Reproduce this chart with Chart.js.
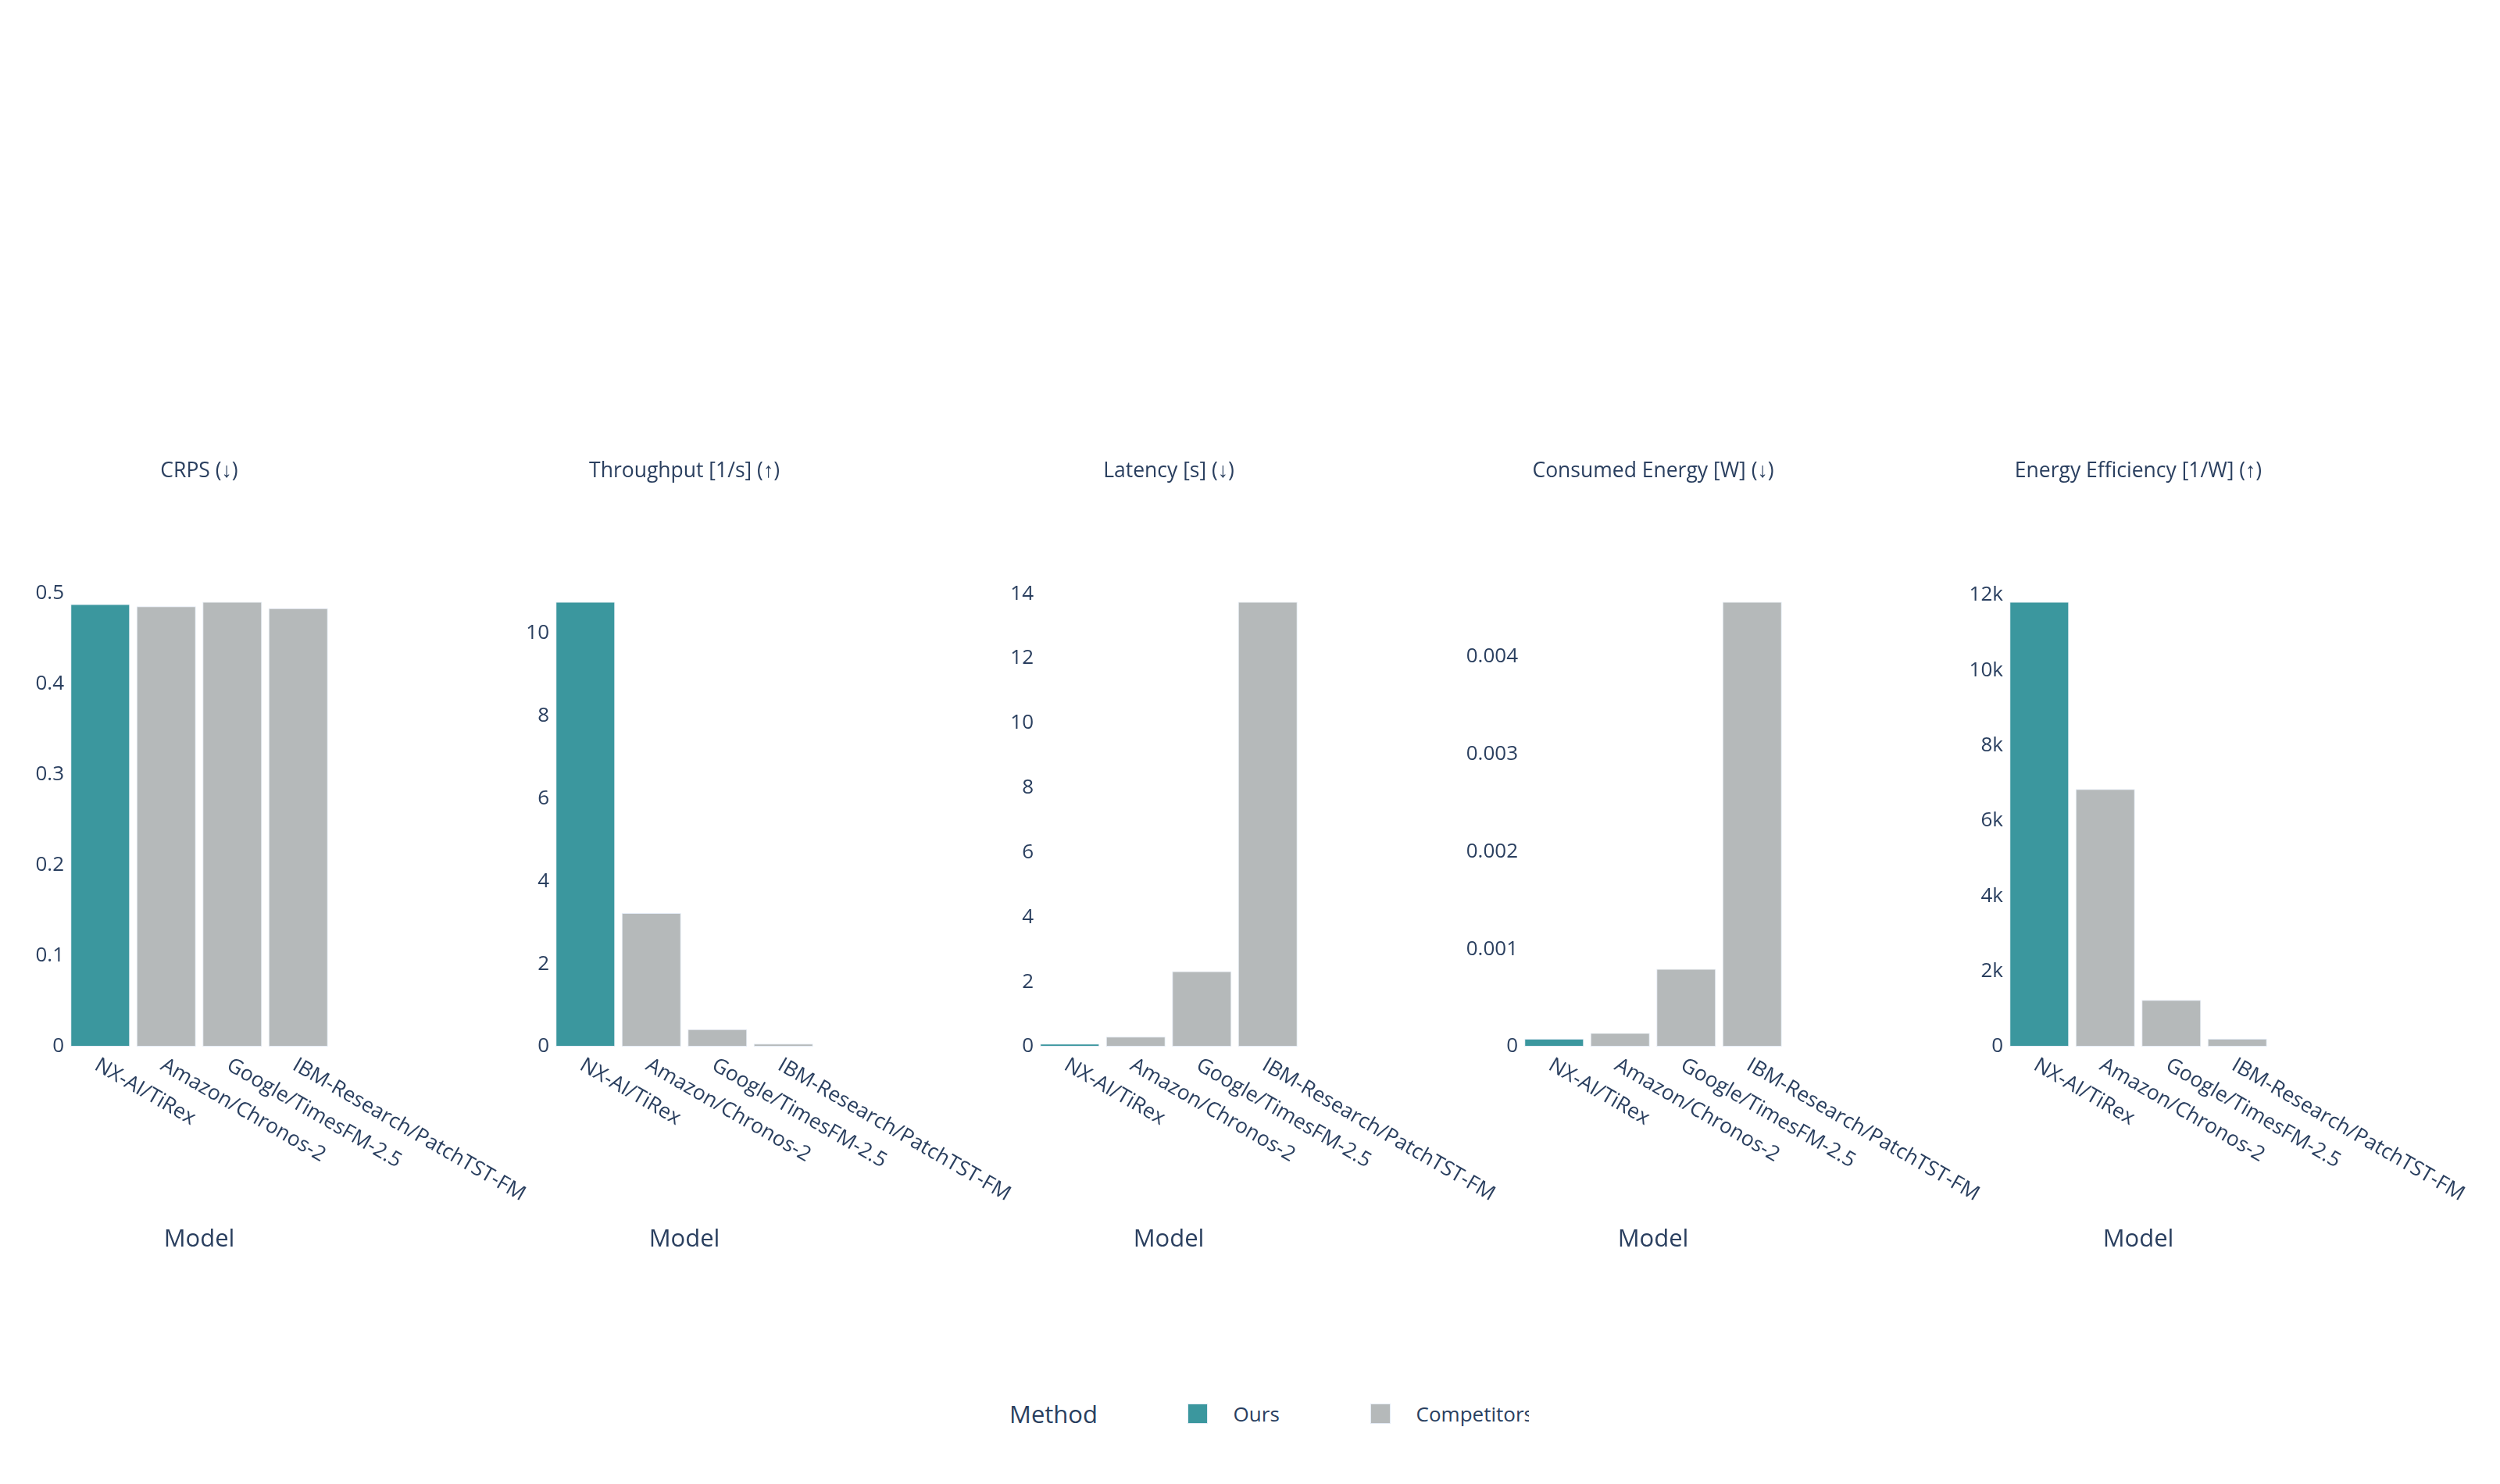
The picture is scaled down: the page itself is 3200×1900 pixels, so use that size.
<!DOCTYPE html>
<html><head><meta charset="utf-8">
<script src="https://cdn.jsdelivr.net/npm/chart.js@4.4.1/dist/chart.umd.min.js"></script>
<style>
html,body{margin:0;padding:0;background:#fff;}
body{width:3200px;height:1900px;position:relative;overflow:hidden;font-family:'Open Sans',sans-serif;color:#2a3f5f;}
canvas{position:absolute;top:0;}
#legend{position:absolute;left:1292px;top:1780px;width:665px;height:60px;overflow:hidden;white-space:nowrap;}
#legend .lt{position:absolute;left:0;top:30px;transform:translateY(-50%);font-size:31px;line-height:1;}
#legend .sw{position:absolute;top:17px;width:24px;height:24px;border:1px solid #E5ECF6;}
#legend .it{position:absolute;top:30px;transform:translateY(-50%);font-size:26px;line-height:1;}
</style></head><body>
<div id="legend"></div>
<script>
// ---- data ----
const models = ['NX-AI/TiRex', 'Amazon/Chronos-2', 'Google/TimesFM-2.5', 'IBM-Research/PatchTST-FM'];
const methods = ['Ours', 'Competitors'];
const methodOfModel = ['Ours', 'Competitors', 'Competitors', 'Competitors'];
const metricTitles = ['CRPS (↓)', 'Throughput [1/s] (↑)', 'Latency [s] (↓)', 'Consumed Energy [W] (↓)', 'Energy Efficiency [1/W] (↑)'];
const crps = [0.488, 0.4855, 0.4905, 0.4833];
const throughput = [10.76, 3.23, 0.42, 0.07];
const latency = [0.093, 0.31, 2.33, 13.75];
const consumedEnergy = [0.00008, 0.00014, 0.000797, 0.004565];
const energyEfficiency = [11820, 6845, 1240, 208];
const crpsTicks = [0, 0.1, 0.2, 0.3, 0.4, 0.5];
const throughputTicks = [0, 2, 4, 6, 8, 10];
const latencyTicks = [0, 2, 4, 6, 8, 10, 12, 14];
const energyTicks = [0, 0.001, 0.002, 0.003, 0.004];
const efficiencyTicks = [0, 2000, 4000, 6000, 8000, 10000, 12000];
const xAxisTitle = 'Model';
const legendTitle = 'Method';

// ---- styles / layout ----
const methodColors = ['#3B979E', '#B5B9BA'];
const TEXT = '#2a3f5f';
const FONT = '"Open Sans", sans-serif';
const metricValues = [crps, throughput, latency, consumedEnergy, energyEfficiency];
const metricTicks = [crpsTicks, throughputTicks, latencyTicks, energyTicks, efficiencyTicks];
const FIRST_LEFT = 86.4, SPACING = 620.3, PLOT_W = 338, PLOT_TOP = 742, PLOT_BOTTOM = 1340;
const Y_AXIS_W = 100, CANVAS_W = 720, H = 1900;
const TITLE_Y = 603, XTITLE_Y = 1587;

function fmtTick(v, idx) {
  if (idx === 4) return v === 0 ? '0' : (v / 1000) + 'k';
  return String(+Number(v).toFixed(8));
}

const annotPlugin = {
  id: 'annot',
  afterDraw(chart, args, opts) {
    const {ctx, chartArea} = chart;
    const cx = (chartArea.left + chartArea.right) / 2;
    ctx.save();
    ctx.fillStyle = TEXT;
    ctx.textAlign = 'center';
    ctx.textBaseline = 'middle';
    ctx.font = '26.5px ' + FONT;
    ctx.fillText(opts.title, cx, TITLE_Y);
    ctx.font = '31px ' + FONT;
    ctx.fillText(xAxisTitle, cx, XTITLE_Y);
    const xs = chart.scales.x;
    ctx.font = '26.5px ' + FONT;
    ctx.textAlign = 'left';
    chart.data.labels.forEach((lab, j) => {
      const x = xs.getPixelForValue(j);
      ctx.save();
      ctx.translate(x - 5, chartArea.bottom + 22);
      ctx.rotate(Math.PI / 6);
      ctx.fillText(lab, 0, 0);
      ctx.restore();
    });
    ctx.restore();
  }
};

metricValues.forEach((values, idx) => {
  const plotLeft = Math.round(FIRST_LEFT + idx * SPACING);
  const cv = document.createElement('canvas');
  cv.width = CANVAS_W; cv.height = H;
  cv.style.width = CANVAS_W + 'px'; cv.style.height = H + 'px';
  cv.style.left = (plotLeft - Y_AXIS_W) + 'px';
  document.body.appendChild(cv);
  const maxV = Math.max(...values) * 1.05;
  const tickVals = metricTicks[idx];
  new Chart(cv, {
    type: 'bar',
    data: {
      labels: models,
      datasets: methods.map((m, k) => ({
        label: m,
        data: values.map((v, j) => methodOfModel[j] === m ? v : null),
        backgroundColor: methodColors[k],
        borderColor: '#E5ECF6',
        borderWidth: 1,
        borderSkipped: false,
        barPercentage: 0.9,
        categoryPercentage: 1.0
      }))
    },
    options: {
      responsive: false,
      animation: false,
      devicePixelRatio: 1,
      layout: {padding: {top: PLOT_TOP, bottom: H - PLOT_BOTTOM, left: 0, right: CANVAS_W - Y_AXIS_W - PLOT_W}},
      plugins: {legend: {display: false}, tooltip: {enabled: false}, annot: {title: metricTitles[idx]}},
      scales: {
        x: {display: false, stacked: true},
        y: {
          stacked: true,
          min: 0,
          max: maxV,
          grid: {display: false, drawTicks: false},
          border: {display: false},
          afterFit: s => { s.width = Y_AXIS_W; },
          afterBuildTicks: s => { s.ticks = tickVals.map(v => ({value: v})); },
          ticks: {
            padding: 4,
            color: TEXT,
            font: {family: 'Open Sans', size: 26},
            callback: v => fmtTick(v, idx)
          }
        }
      }
    },
    plugins: [annotPlugin]
  });
});

// ---- legend ----
const lg = document.getElementById('legend');
const t = document.createElement('span');
t.className = 'lt'; t.textContent = legendTitle; lg.appendChild(t);
methods.forEach((m, k) => {
  const sw = document.createElement('span');
  sw.className = 'sw'; sw.style.left = (228 + k * 234) + 'px'; sw.style.background = methodColors[k];
  lg.appendChild(sw);
  const it = document.createElement('span');
  it.className = 'it'; it.style.left = (286.6 + k * 234) + 'px'; it.textContent = m;
  lg.appendChild(it);
});
</script>
</body></html>
